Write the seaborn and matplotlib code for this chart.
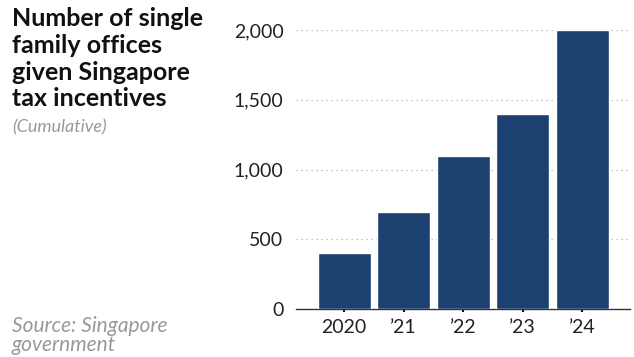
import matplotlib
matplotlib.use("Agg")
import matplotlib.pyplot as plt
import seaborn as sns
import pandas as pd
from matplotlib.ticker import FuncFormatter

years = ["2020", "\u201921", "\u201922", "\u201923", "\u201924"]
offices = [400, 700, 1100, 1400, 2000]
yticks = [0, 500, 1000, 1500, 2000]

df = pd.DataFrame({"year": years, "offices": offices})

sns.set_theme(style="white")
plt.rcParams['font.family'] = ['Lato', 'DejaVu Sans']

fig = plt.figure(figsize=(6.34, 3.57), dpi=100)
W, H = 634, 357
ax = fig.add_axes([296 / W, 1 - 309.3 / H, (630 - 296) / W, (309.3 - 30) / H])

sns.barplot(data=df, x="year", y="offices", color="#1c4170", saturation=1,
            width=0.89, ax=ax, zorder=3)

ax.set_ylim(0, 2000)
ax.set_xlim(-0.81, 4.8)
ax.set_yticks(yticks)
ax.yaxis.set_major_formatter(FuncFormatter(lambda v, p: f"{int(v):,}"))
ax.grid(axis="y", color="#b0b0b0", linestyle=(0, (1, 3)), linewidth=0.9, zorder=0)
ax.set_axisbelow(True)
for s in ["top", "right", "left"]:
    ax.spines[s].set_visible(False)
ax.spines["bottom"].set_color("#333333")
ax.spines["bottom"].set_linewidth(1.0)
ax.set_xlabel("")
ax.set_ylabel("")
ax.tick_params(axis="y", length=0, pad=9, labelsize=14, labelcolor="#222222")
ax.tick_params(axis="x", length=2, width=1.5, color="#111111", pad=5,
               labelsize=14, labelcolor="#222222", bottom=True)

fig.text(12 / W, 1 - 7 / H, "Number of single\nfamily offices\ngiven Singapore\ntax incentives",
         ha="left", va="top", fontsize=18, fontweight="bold", color="#111111",
         linespacing=1.2)
fig.text(12 / W, 1 - 127 / H, "(Cumulative)", ha="left", va="center", fontsize=13,
         style="italic", color="#999999")
fig.text(12 / W, 1 - 316 / H, "Source: Singapore\ngovernment", ha="left", va="top",
         fontsize=15, style="italic", color="#999999", linespacing=0.95)

fig.savefig("out.png", dpi=100)
